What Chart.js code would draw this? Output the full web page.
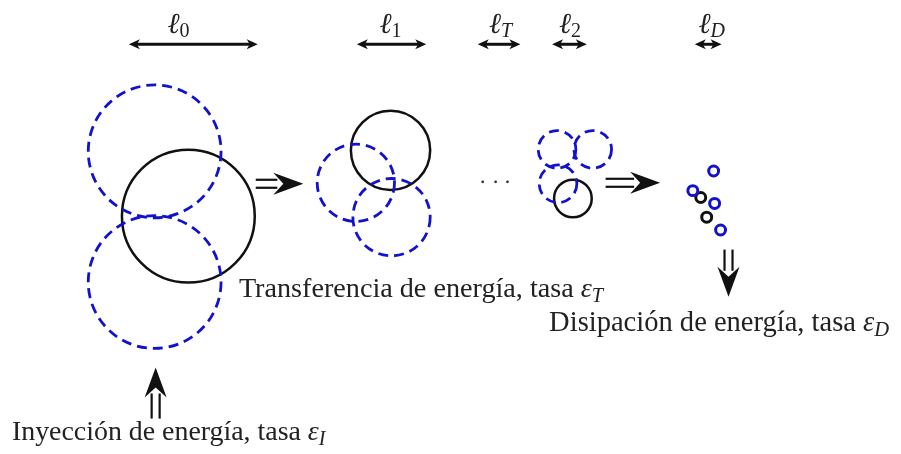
<!DOCTYPE html>
<html>
<head>
<meta charset="utf-8">
<script src="https://cdn.jsdelivr.net/npm/chart.js@4.4.0/dist/chart.umd.min.js"></script>
<style>
html,body{margin:0;padding:0;background:#fff;}
canvas{display:block;}
</style>
</head>
<body>
<canvas id="myChart" width="901" height="454"></canvas>
<script>
// eddies drawn as solid black circles (centre x, centre y, radius)
const solidX = [186, 390, 574];
const solidY = [216, 149, 198];
const solidR = [67, 40, 19];

// eddies drawn as dashed blue circles
const dashedX = [152, 152, 355, 391, 558, 594, 559];
const dashedY = [150, 283, 182, 217, 148, 148, 183];
const dashedR = [67, 67, 39, 39, 19, 19, 19];

// smallest (dissipative) eddies
const tinyBlueX = [716, 695, 717, 723];
const tinyBlueY = [170, 190, 203, 230];
const tinyBlackX = [703, 709];
const tinyBlackY = [197, 217];
const tinyR = 5;

// the "..." between stages
const dotsX = [483, 496, 508];
const dotsY = [181, 181, 181];

// length scales on top
const scaleSub = ['0', '1', 'T', '2', 'D'];
const scaleLeft = [126, 356, 478, 553, 697];
const scaleRight = [256, 426, 521, 588, 724];
const scaleLabelX = [176, 390, 501, 571, 714];
const scaleArrowY = 41;
const scaleLabelY = 30;

// double arrows (energy flow)
const flowFromX = [254, 607, 731, 153];
const flowFromY = [183, 182, 250, 422];
const flowToX = [302, 662, 731, 153];
const flowToY = [183, 182, 298, 370];

// rate labels
const rateText = ['Transferencia de energía, tasa', 'Disipación de energía, tasa', 'Inyección de energía, tasa'];
const rateSub = ['T', 'D', 'I'];
const rateX = [237, 550, 8];
const rateY = [298, 333, 444];
const rateWidth = [335, 307, 289];

const BLUE = '#1212cc';
const INK = '#111';
const SERIF = '"Liberation Serif", "DejaVu Serif", serif';

function pts(xs, ys) {
  return xs.map(function (x, i) { return {x: x, y: ys[i]}; });
}
function radiusFrom(list) {
  return function (c) {
    const sx = c.chart.scales.x;
    const r = Array.isArray(list) ? list[c.dataIndex] : list;
    return sx.getPixelForValue(r) - sx.getPixelForValue(0);
  };
}

function arrowHead(ctx, tx, ty, dx, dy, len, half, notch) {
  const px = -dy, py = dx;
  ctx.beginPath();
  ctx.moveTo(tx, ty);
  ctx.lineTo(tx - dx * len + px * half, ty - dy * len + py * half);
  ctx.lineTo(tx - dx * (len - notch), ty - dy * (len - notch));
  ctx.lineTo(tx - dx * len - px * half, ty - dy * len - py * half);
  ctx.closePath();
  ctx.fill();
}

const diagramPlugin = {
  id: 'diagram',
  beforeDatasetDraw: function (chart, args) {
    const ds = chart.data.datasets[args.index];
    if (ds.dash) chart.ctx.setLineDash(ds.dash);
  },
  afterDatasetDraw: function (chart) {
    chart.ctx.setLineDash([]);
  },
  afterDraw: function (chart) {
    const ctx = chart.ctx;
    const sx = chart.scales.x, sy = chart.scales.y;
    ctx.save();
    ctx.fillStyle = INK;
    ctx.strokeStyle = INK;

    // scale arrows  <-->
    scaleLeft.forEach(function (l, i) {
      const x1 = sx.getPixelForValue(l), x2 = sx.getPixelForValue(scaleRight[i]);
      const y = sy.getPixelForValue(scaleArrowY);
      ctx.fillStyle = INK;
      ctx.lineWidth = 3;
      ctx.beginPath();
      ctx.moveTo(x1 + 6, y);
      ctx.lineTo(x2 - 6, y);
      ctx.stroke();
      arrowHead(ctx, x2, y, 1, 0, 11, 5, 3);
      arrowHead(ctx, x1, y, -1, 0, 11, 5, 3);

      // label: ell with subscript
      const italicSub = /[A-Z]/.test(scaleSub[i]);
      ctx.font = 'italic 29px ' + SERIF;
      const w1 = ctx.measureText('\u2113').width;
      const subFont = (italicSub ? 'italic ' : '') + '20px ' + SERIF;
      ctx.font = subFont;
      const w2 = ctx.measureText(scaleSub[i]).width;
      const cx = sx.getPixelForValue(scaleLabelX[i]);
      const by = sy.getPixelForValue(scaleLabelY);
      const left = cx - (w1 + w2) / 2;
      ctx.fillStyle = '#222';
      ctx.textBaseline = 'alphabetic';
      ctx.textAlign = 'left';
      ctx.font = 'italic 29px ' + SERIF;
      ctx.fillText('\u2113', left, by);
      ctx.font = subFont;
      ctx.fillText(scaleSub[i], left + w1, by + 4);
    });

    // energy flow double arrows
    ctx.fillStyle = INK;
    flowFromX.forEach(function (fx, i) {
      const x1 = sx.getPixelForValue(fx), y1 = sy.getPixelForValue(flowFromY[i]);
      const x2 = sx.getPixelForValue(flowToX[i]), y2 = sy.getPixelForValue(flowToY[i]);
      const L = Math.hypot(x2 - x1, y2 - y1);
      const dx = (x2 - x1) / L, dy = (y2 - y1) / L;
      const px = -dy, py = dx;
      const len = 30, half = 11, notch = 10, gap = 4;
      ctx.lineWidth = 2.2;
      [-1, 1].forEach(function (s) {
        ctx.beginPath();
        ctx.moveTo(x1 + px * gap * s, y1 + py * gap * s);
        ctx.lineTo(x2 - dx * (len - 4) + px * gap * s, y2 - dy * (len - 4) + py * gap * s);
        ctx.stroke();
      });
      arrowHead(ctx, x2, y2, dx, dy, len, half, notch);
    });

    // rate labels with epsilon
    rateText.forEach(function (t, i) {
      ctx.font = '25px ' + SERIF;
      const size = 25 * rateWidth[i] / ctx.measureText(t).width;
      ctx.font = size + 'px ' + SERIF;
      const x = sx.getPixelForValue(rateX[i]);
      const y = sy.getPixelForValue(rateY[i]);
      ctx.fillStyle = '#222';
      ctx.textAlign = 'left';
      ctx.fillText(t, x, y);
      let cx = x + ctx.measureText(t + ' ').width;
      ctx.font = 'italic ' + size + 'px ' + SERIF;
      ctx.fillText('\u03b5', cx, y);
      cx += ctx.measureText('\u03b5').width;
      ctx.font = 'italic ' + (size * 0.72) + 'px ' + SERIF;
      ctx.fillText(rateSub[i], cx, y + size * 0.18);
    });
    ctx.restore();
  }
};

const ctx = document.getElementById('myChart').getContext('2d');
const chart = new Chart(ctx, {
  type: 'scatter',
  data: {
    datasets: [
      {
        label: 'dashed',
        data: pts(dashedX, dashedY),
        pointRadius: radiusFrom(dashedR),
        pointBorderWidth: 2.8,
        pointBorderColor: BLUE,
        pointBackgroundColor: 'rgba(0,0,0,0)',
        dash: [10, 6]
      },
      {
        label: 'solid',
        data: pts(solidX, solidY),
        pointRadius: radiusFrom(solidR),
        pointBorderWidth: 2.5,
        pointBorderColor: INK,
        pointBackgroundColor: 'rgba(0,0,0,0)'
      },
      {
        label: 'tiny blue',
        data: pts(tinyBlueX, tinyBlueY),
        pointRadius: radiusFrom(tinyR),
        pointBorderWidth: 3,
        pointBorderColor: BLUE,
        pointBackgroundColor: 'rgba(0,0,0,0)'
      },
      {
        label: 'tiny black',
        data: pts(tinyBlackX, tinyBlackY),
        pointRadius: radiusFrom(tinyR),
        pointBorderWidth: 3,
        pointBorderColor: INK,
        pointBackgroundColor: 'rgba(0,0,0,0)'
      },
      {
        label: 'dots',
        data: pts(dotsX, dotsY),
        pointRadius: 1.4,
        pointBorderWidth: 0,
        pointBackgroundColor: '#333'
      }
    ]
  },
  options: {
    responsive: false,
    animation: false,
    events: [],
    layout: {padding: 0},
    plugins: {legend: {display: false}, tooltip: {enabled: false}},
    scales: {
      x: {type: 'linear', min: 0, max: 901, display: false},
      y: {type: 'linear', min: 0, max: 454, reverse: true, display: false}
    }
  },
  plugins: [diagramPlugin]
});
</script>
</body>
</html>
